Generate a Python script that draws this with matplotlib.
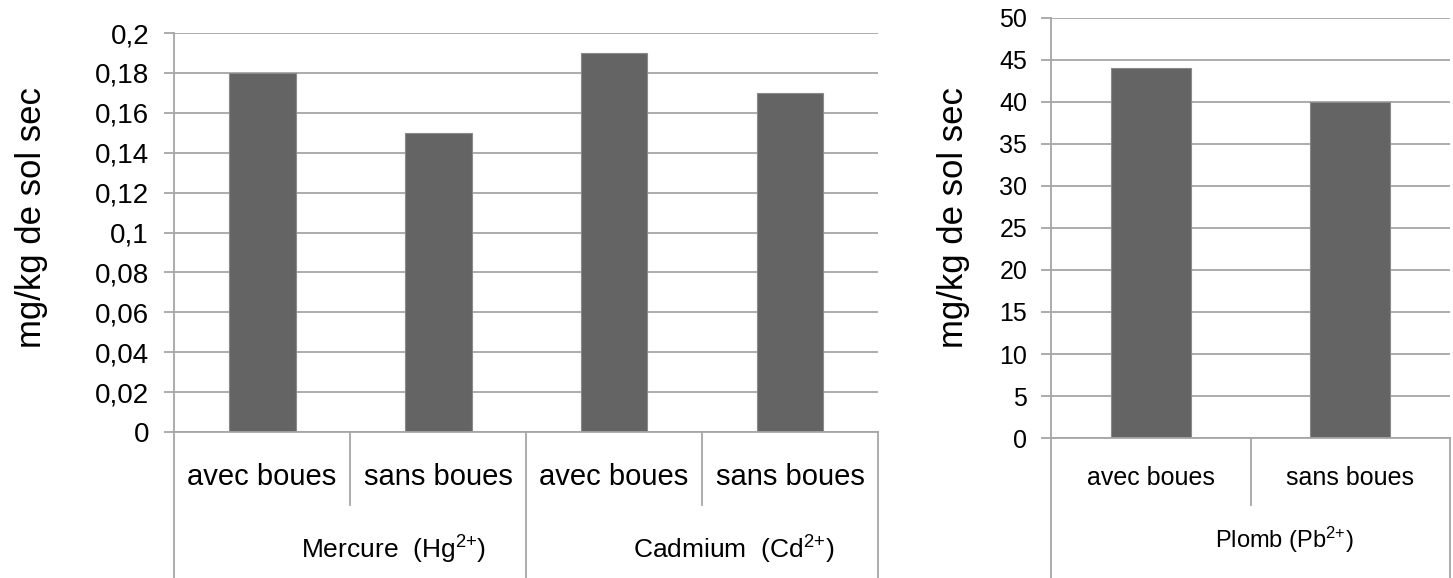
import matplotlib.pyplot as plt
from matplotlib.transforms import blended_transform_factory

plt.rcParams['font.family'] = ['Liberation Sans', 'DejaVu Sans']
plt.rcParams['mathtext.default'] = 'regular'

# Donnees - graphique de gauche (Hg, Cd)
categories_gauche = ['avec boues', 'sans boues', 'avec boues', 'sans boues']
valeurs_gauche = [0.18, 0.15, 0.19, 0.17]
groupes_gauche = [r'Mercure  $(Hg^{2{+}})$', r'Cadmium  $(Cd^{2{+}})$']
ticks_gauche = [0, 0.02, 0.04, 0.06, 0.08, 0.1, 0.12, 0.14, 0.16, 0.18, 0.2]
labels_gauche = ['0', '0,02', '0,04', '0,06', '0,08', '0,1', '0,12', '0,14',
                 '0,16', '0,18', '0,2']

# Donnees - graphique de droite (Pb)
categories_droite = ['avec boues', 'sans boues']
valeurs_droite = [44, 40]
groupe_droite = r'Plomb $(Pb^{2{+}})$'
ticks_droite = [0, 5, 10, 15, 20, 25, 30, 35, 40, 45, 50]

gris_barre = '#646464'
gris_ligne = '#a6a6a6'

fig = plt.figure(figsize=(14.53, 5.78), dpi=100)
ax1 = fig.add_axes([0.1198, 0.2526, 0.4845, 0.6903])
ax2 = fig.add_axes([0.7233, 0.2422, 0.2747, 0.7267])


def style_axe(ax, ticks, labels, pad, taille):
    ax.set_yticks(ticks)
    ax.set_yticklabels(labels, fontsize=taille)
    ax.set_ylim(ticks[0], ticks[-1])
    ax.grid(axis='y', color=gris_ligne, linewidth=1.3)
    ax.set_axisbelow(True)
    for s in ['top', 'right']:
        ax.spines[s].set_visible(False)
    for s in ['left', 'bottom']:
        ax.spines[s].set_color(gris_ligne)
        ax.spines[s].set_linewidth(1.3)
    ax.tick_params(axis='y', length=7, width=1.3, color=gris_ligne, pad=pad)
    ax.tick_params(axis='x', length=0, labelbottom=False)


def separateurs(ax, n, internes, bas_int, bas_ext):
    trans = blended_transform_factory(ax.transData, ax.transAxes)
    for i in range(n + 1):
        x = i - 0.5
        bas = bas_int if i in internes else bas_ext
        ax.plot([x, x], [0, bas], transform=trans, color=gris_ligne,
                linewidth=1.3, clip_on=False)


# graphique de gauche
x1 = range(len(valeurs_gauche))
ax1.bar(x1, valeurs_gauche, width=0.38, color=gris_barre,
        edgecolor='#8a8a8a', linewidth=0.8)
ax1.set_xlim(-0.5, len(valeurs_gauche) - 0.5)
style_axe(ax1, ticks_gauche, labels_gauche, 11, 20)
separateurs(ax1, len(valeurs_gauche), [1, 3], -0.183, -0.37)
tr1 = blended_transform_factory(ax1.transData, ax1.transAxes)
for i, c in enumerate(categories_gauche):
    ax1.text(i, -0.113, c, transform=tr1, ha='center', va='center', fontsize=21)
for g, xg in zip(groupes_gauche, [0.75, 2.68]):
    ax1.text(xg, -0.296, g, transform=tr1, ha='center', va='center', fontsize=19)

# graphique de droite
x2 = range(len(valeurs_droite))
ax2.bar(x2, valeurs_droite, width=0.4, color=gris_barre,
        edgecolor='#8a8a8a', linewidth=0.8)
ax2.set_xlim(-0.5, len(valeurs_droite) - 0.5)
style_axe(ax2, ticks_droite, [str(t) for t in ticks_droite], 10, 18)
separateurs(ax2, len(valeurs_droite), [1], -0.16, -0.34)
tr2 = blended_transform_factory(ax2.transData, ax2.transAxes)
for i, c in enumerate(categories_droite):
    ax2.text(i, -0.095, c, transform=tr2, ha='center', va='center', fontsize=18)
ax2.text(0.67, -0.243, groupe_droite, transform=tr2, ha='center', va='center',
         fontsize=17)

fig.text(0.022, 0.623, 'mg/kg de sol sec', rotation=90, ha='center',
         va='center', fontsize=25)
fig.text(0.656, 0.623, 'mg/kg de sol sec', rotation=90, ha='center',
         va='center', fontsize=25)

fig.savefig('out.png', dpi=100)
